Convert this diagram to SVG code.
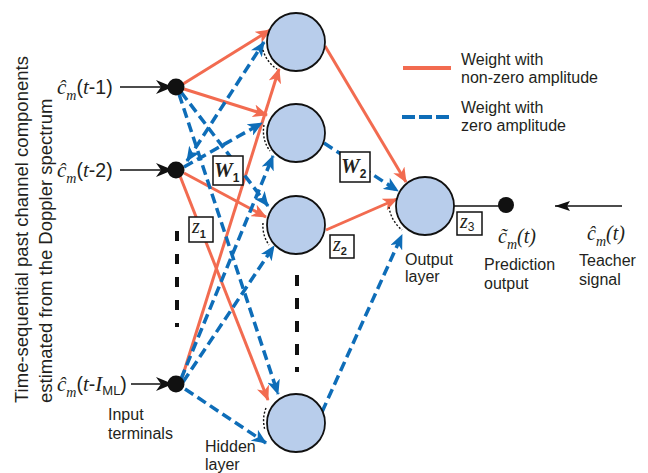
<svg xmlns="http://www.w3.org/2000/svg" width="648" height="473" viewBox="0 0 648 473">
<style>
.t{font-family:"Liberation Sans",Arial,sans-serif;font-size:16px;fill:#231F20}
.v{font-family:"Liberation Sans",Arial,sans-serif;font-size:18.5px;fill:#231F20}
.s{font-family:"Liberation Sans",Arial,sans-serif;font-style:normal;fill:#231F20}
.it{font-family:"Liberation Serif","Times New Roman",serif;font-style:italic;fill:#231F20}
.red{stroke:#F26B50;stroke-width:3;fill:none;marker-end:url(#ar)}
.blue{stroke:#0E6DB8;stroke-width:3.5;fill:none;stroke-dasharray:10 5;marker-end:url(#ab)}
.node{fill:#B8CDEB;stroke:#111;stroke-width:1.8}
.arc{fill:none;stroke:#111;stroke-width:1.4;stroke-dasharray:2 1.8}
.box{fill:#fff;stroke:#111;stroke-width:1.5}
.dots{stroke:#111;stroke-width:4;fill:none}
</style>
<defs>
<marker id="ar" markerUnits="userSpaceOnUse" viewBox="0 0 15 13" markerWidth="15" markerHeight="13" refX="14" refY="6.5" orient="auto"><path d="M0,0 L15,6.5 L0,13 L4,6.5 Z" fill="#F26B50"/></marker>
<marker id="ab" markerUnits="userSpaceOnUse" viewBox="0 0 15 13" markerWidth="15" markerHeight="13" refX="14" refY="6.5" orient="auto-start-reverse"><path d="M0,0 L15,6.5 L0,13 L4,6.5 Z" fill="#0E6DB8"/></marker>
<marker id="ak" markerUnits="userSpaceOnUse" viewBox="0 0 17 14" markerWidth="17" markerHeight="14" refX="16" refY="7" orient="auto"><path d="M0,0 L17,7 L0,14 L5,7 Z" fill="#111"/></marker>
<marker id="at" markerUnits="userSpaceOnUse" viewBox="0 0 15 10" markerWidth="15" markerHeight="10" refX="15" refY="5" orient="auto"><path d="M0,0 L15,5 L0,10 L3,5 Z" fill="#111"/></marker>
</defs>

<!-- side caption -->
<g id="caption">
<text class="v" transform="translate(28,403) rotate(-90)">Time-sequential past channel components</text>
<text class="v" transform="translate(52,403) rotate(-90)">estimated from the Doppler spectrum</text>
</g>

<!-- connectors -->
<g id="connectors">
<line class="red" x1="183" y1="84" x2="270" y2="30"/>
<line class="red" x1="184" y1="89" x2="267" y2="115"/>
<line class="red" x1="184" y1="173" x2="266" y2="217"/>
<line class="red" x1="180" y1="176" x2="268" y2="400"/>
<line class="red" x1="181" y1="381" x2="279" y2="69"/>
<line class="red" x1="325" y1="46" x2="406" y2="182"/>
<line class="red" x1="326" y1="230" x2="397" y2="199"/>
<line class="blue" x1="181" y1="92" x2="268" y2="206"/>
<line class="blue" x1="179" y1="94" x2="278" y2="394"/>
<line class="blue" x1="187" y1="161" x2="264" y2="42" style="marker-start:url(#ab)"/>
<line class="blue" x1="184" y1="167" x2="262" y2="123"/>
<line class="blue" x1="181" y1="379" x2="273" y2="156"/>
<line class="blue" x1="183" y1="382" x2="274" y2="246"/>
<line class="blue" x1="185" y1="389" x2="266" y2="443"/>
<line class="blue" x1="324" y1="143" x2="398" y2="191"/>
<line class="blue" x1="322" y1="412" x2="402" y2="235"/>
<line x1="120" y1="87" x2="172" y2="87" stroke="#111" stroke-width="1.6" marker-end="url(#ak)"/>
<line x1="120" y1="170" x2="172" y2="170" stroke="#111" stroke-width="1.6" marker-end="url(#ak)"/>
<line x1="131" y1="384" x2="172" y2="384" stroke="#111" stroke-width="1.6" marker-end="url(#ak)"/>
<line x1="454" y1="206" x2="506" y2="206" stroke="#111" stroke-width="1.6"/>
<line x1="622" y1="206" x2="555" y2="206" stroke="#111" stroke-width="1.6" marker-end="url(#at)"/>
</g>

<!-- ellipsis dots -->
<line class="dots" x1="177" y1="231" x2="177" y2="327" stroke-dasharray="10 13"/>
<line class="dots" x1="297" y1="275" x2="297" y2="372" stroke-dasharray="11 12"/>

<!-- input terminals -->
<g id="input-1">
<circle cx="176" cy="87" r="8.5" fill="#111"/>
<text class="s" x="57" y="94" font-size="19.5"><tspan class="it" font-size="21">ĉ</tspan><tspan class="it" font-size="14" dy="6">m</tspan><tspan dy="-6">(</tspan><tspan class="it" font-size="21">t</tspan>-1)</text>
</g>
<g id="input-2">
<circle cx="176" cy="170" r="8.5" fill="#111"/>
<text class="s" x="57" y="177" font-size="19.5"><tspan class="it" font-size="21">ĉ</tspan><tspan class="it" font-size="14" dy="6">m</tspan><tspan dy="-6">(</tspan><tspan class="it" font-size="21">t</tspan>-2)</text>
</g>
<g id="input-3">
<circle cx="176" cy="384" r="8.5" fill="#111"/>
<text class="s" x="57" y="391" font-size="19.5"><tspan class="it" font-size="21">ĉ</tspan><tspan class="it" font-size="14" dy="6">m</tspan><tspan dy="-6">(</tspan><tspan class="it" font-size="21">t</tspan>-<tspan class="it" font-size="21">I</tspan><tspan font-size="13" dy="4">ML</tspan><tspan dy="-4">)</tspan></text>
<text class="t" x="108" y="420">Input</text>
<text class="t" x="108" y="439">terminals</text>
</g>

<!-- hidden layer -->
<g id="hidden-1">
<circle class="node" cx="296" cy="42" r="29"/>
<path class="arc" d="M263,50 A33,33 0 0 0 277,69"/>
</g>
<g id="hidden-2">
<circle class="node" cx="296" cy="133" r="29"/>
<path class="arc" d="M264,125 A33,33 0 0 0 270,151"/>
</g>
<g id="hidden-3">
<circle class="node" cx="296" cy="225" r="29"/>
<path class="arc" d="M263,223 A33,33 0 0 0 269,245"/>
</g>
<g id="hidden-4">
<circle class="node" cx="296" cy="423" r="29"/>
<path class="arc" d="M266,408 A33,33 0 0 0 265,430"/>
<text class="t" x="205" y="452">Hidden</text>
<text class="t" x="205" y="470">layer</text>
</g>

<!-- output -->
<g id="output">
<circle class="node" cx="425" cy="206" r="29"/>
<path class="arc" d="M389,207 A36,36 0 0 0 402,230"/>
<text class="t" x="405" y="265">Output</text>
<text class="t" x="405" y="282">layer</text>
</g>
<g id="prediction">
<circle cx="506" cy="205" r="8" fill="#111"/>
<text class="it" x="498" y="243" font-size="20">c̃<tspan font-size="14" dy="6">m</tspan><tspan dy="-6">(t)</tspan></text>
<text class="t" x="484" y="270">Prediction</text>
<text class="t" x="484" y="289">output</text>
</g>
<g id="teacher">
<text class="it" x="587" y="240" font-size="20">ĉ<tspan font-size="14" dy="6">m</tspan><tspan dy="-6">(t)</tspan></text>
<text class="t" x="579" y="266">Teacher</text>
<text class="t" x="579" y="285">signal</text>
</g>

<!-- weight / bias boxes -->
<g id="W1">
<rect class="box" x="213" y="156" width="30" height="29"/>
<text class="it" x="214" y="177" font-size="21" font-weight="bold">W<tspan class="s" font-size="12" dy="5">1</tspan></text>
</g>
<g id="z1">
<rect class="box" x="189" y="217" width="24" height="25"/>
<text class="it" x="192" y="233" font-size="20">z<tspan class="s" font-size="11" font-weight="bold" dy="5">1</tspan></text>
</g>
<g id="W2">
<rect class="box" x="340" y="152" width="30" height="30"/>
<text class="it" x="341" y="173" font-size="21" font-weight="bold">W<tspan class="s" font-size="12" dy="5">2</tspan></text>
</g>
<g id="z2">
<rect class="box" x="330" y="235" width="24" height="23"/>
<text class="it" x="333" y="251" font-size="20">z<tspan class="s" font-size="11" font-weight="bold" dy="4">2</tspan></text>
</g>
<g id="z3">
<rect class="box" x="457" y="212" width="25" height="23"/>
<text class="it" x="460" y="228" font-size="20">z<tspan class="s" font-size="12" dy="3">3</tspan></text>
</g>

<!-- legend -->
<g id="legend">
<line x1="403" y1="68" x2="451" y2="68" stroke="#F26B50" stroke-width="4"/>
<text class="t" x="461" y="65">Weight with</text>
<text class="t" x="461" y="83">non-zero amplitude</text>
<line x1="402" y1="117" x2="453" y2="117" stroke="#0E6DB8" stroke-width="4" stroke-dasharray="13 4"/>
<text class="t" x="461" y="113">Weight with</text>
<text class="t" x="461" y="131">zero amplitude</text>
</g>
</svg>
